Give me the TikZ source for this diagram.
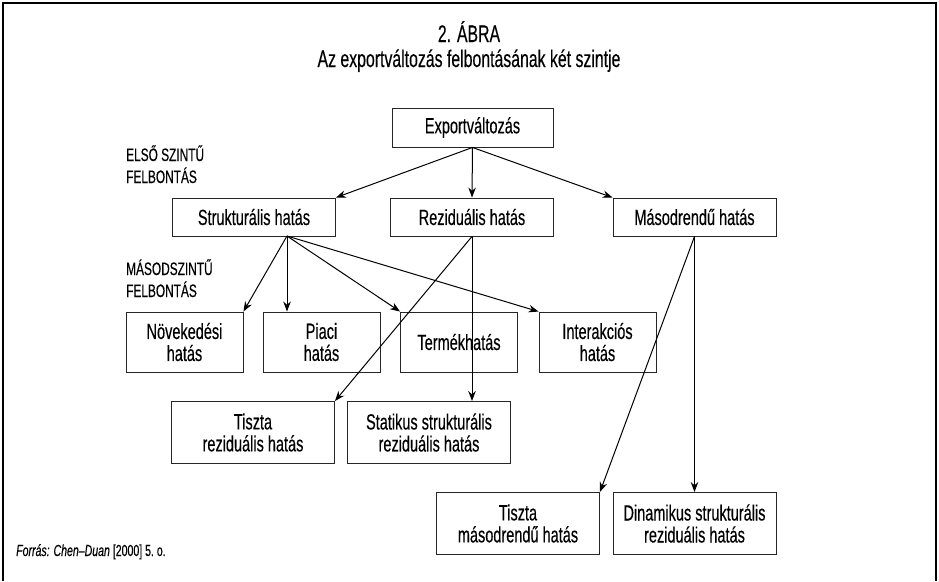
\documentclass[tikz,border=0pt]{standalone}
\usepackage{fontspec}
\setmainfont{Liberation Sans}[FakeStretch=0.66, FakeBold=0.3]
\usetikzlibrary{arrows.meta}

\begin{document}
\begin{tikzpicture}[x=1pt, y=-1pt,
  box/.style={draw=black!85, line width=0.9pt, align=center, inner sep=2pt,
    font=\fontsize{22}{22}\selectfont},
  wide/.style={box, minimum width=163pt, minimum height=38pt},
  small/.style={box, minimum width=117pt, minimum height=60pt},
  tall/.style={box, minimum width=163pt, minimum height=62pt},
  lvl/.style={align=left, inner sep=0pt, font=\fontsize{18}{22}\selectfont},
  arr/.style={-{Stealth[length=10pt, width=7.5pt]}, line width=1pt}
]
  \useasboundingbox (0,0) rectangle (939,581);
  \draw[line width=1.2pt] (3,581) -- (3,3) -- (936,3) -- (936,581);

  \node[anchor=base, font=\fontsize{24}{24}\selectfont] (title) at (469,42) {2. ÁBRA};
  \node[anchor=base, font=\fontsize{24}{24}\selectfont] (subtitle) at (469,67)
    {Az exportváltozás felbontásának két szintje};

  \node[lvl, anchor=base west] (first) at (126,183) {ELSŐ SZINTŰ\\FELBONTÁS};
  \node[lvl, anchor=base west] (second) at (126,297) {MÁSODSZINTŰ\\FELBONTÁS};

  \node[box, minimum width=161pt, minimum height=39pt] (export) at (472.5,127.5) {Exportváltozás};
  \node[wide] (strukt) at (254,217) {Strukturális hatás};
  \node[wide] (rezid) at (472,217) {Reziduális hatás};
  \node[wide] (masod) at (694.5,217) {Másodrendű hatás};

  \node[small] (novek) at (184.5,342) {Növekedési\\hatás};
  \node[small] (piaci) at (321.5,342) {Piaci\\hatás};
  \node[small] (termek) at (459,342) {Termékhatás};
  \node[small] (interakc) at (597.5,342) {Interakciós\\hatás};

  \node[tall] (tisztarez) at (253,432.5) {Tiszta\\reziduális hatás};
  \node[tall] (statikus) at (429,432.5) {Statikus strukturális\\reziduális hatás};

  \node[tall] (tisztamas) at (518,523.5) {Tiszta\\másodrendű hatás};
  \node[tall] (dinam) at (694.5,523.5) {Dinamikus strukturális\\reziduális hatás};

  \node[anchor=base west, inner sep=0pt, font=\fontsize{16}{16}\selectfont] (source) at (16,556)
    {\textit{Forrás: Chen–Duan} [2000] 5.~o.};

  \coordinate (sfork) at (287,236);

  \draw[arr] (export.south) -- (strukt.north east);
  \draw[arr] (export.south) -- (rezid.north);
  \draw[arr] (export.south) -- (masod.north west);

  \draw[arr] (sfork) -- (novek.north east);
  \draw[arr] (sfork) -- (sfork |- piaci.north);
  \draw[arr] (sfork) -- (termek.north west);
  \draw[arr] (sfork) -- (interakc.north west);

  \draw[arr] (rezid.south) -- (tisztarez.north east);
  \draw[arr] (rezid.south) -- (rezid.south |- statikus.north);

  \draw[arr] (masod.south) -- (tisztamas.north east);
  \draw[arr] (masod.south) -- (dinam.north);
\end{tikzpicture}
\end{document}
